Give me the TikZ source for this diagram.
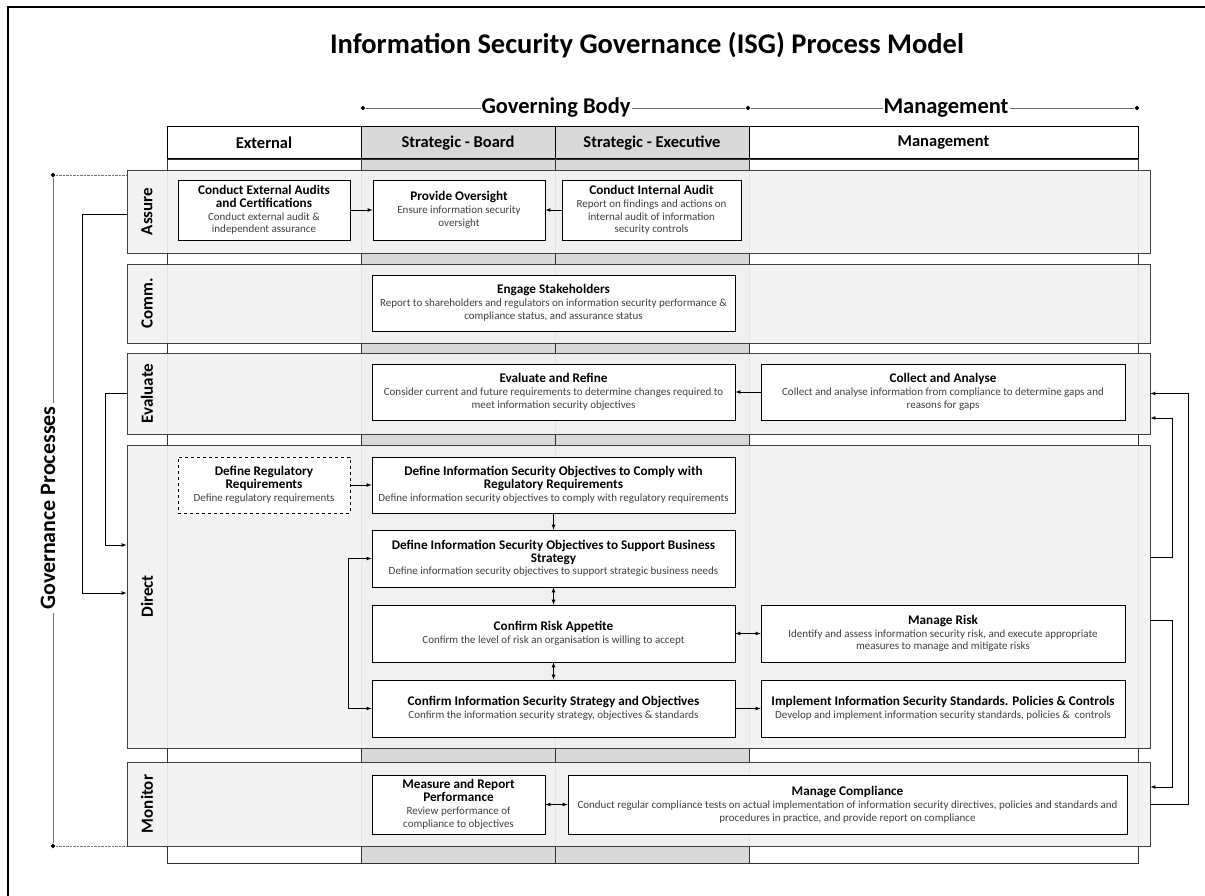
\documentclass[tikz,border=0pt]{standalone}
\usepackage{fontspec}
\setmainfont{Carlito}
\usetikzlibrary{shapes.geometric,arrows}
\definecolor{colgray}{HTML}{D9D9D9}
\definecolor{lanegray}{HTML}{F2F2F2}
\newcommand{\ptitle}[1]{{\fontsize{13.2}{14.5}\selectfont\bfseries #1}}
\newcommand{\pdesc}[1]{{\color{black!75}#1}}
\begin{document}
\begin{tikzpicture}
  [x=1pt,y=-1pt,>=latex,
   col/.style={rectangle,draw=black!80,line width=0.7pt,minimum height=704pt,anchor=north},
   colhead/.style={rectangle,draw,line width=1pt,minimum height=32pt,font=\fontsize{16.5}{18}\selectfont\bfseries},
   lane/.style={rectangle,draw=black!75,line width=0.9pt,fill=lanegray,fill opacity=0.92,minimum width=1023pt},
   lanename/.style={rotate=90,font=\fontsize{17}{19}\selectfont\bfseries},
   proc/.style={rectangle,draw,line width=0.8pt,fill=white,align=center,inner sep=2pt,font=\fontsize{11}{12.8}\selectfont},
   tip/.style={diamond,fill=black,inner sep=0pt,minimum size=5pt},
   link/.style={->,line width=0.7pt}]
  \useasboundingbox (0,0) rectangle (1205,896);
  \draw[line width=2.5pt] (8,896) -- (8,7) -- (1205,7);

  % title and top ruler
  \node (title) at (647,45) {\fontsize{28.5}{32}\selectfont\bfseries Information Security Governance (ISG) Process Model};
  \node[tip] (gbl) at (363,108) {};
  \node[tip] (gbm) at (748,108) {};
  \node[tip] (mgr) at (1137,108) {};
  \draw[black!60,line width=0.6pt] (gbl) -- (gbm);
  \draw[black!60,line width=0.6pt] (gbm) -- (mgr);
  \node[fill=white,inner xsep=1pt,font=\fontsize{22.5}{25}\selectfont\bfseries] (gb) at (556,108) {Governing Body};
  \node[fill=white,inner xsep=1pt,font=\fontsize{22.5}{25}\selectfont\bfseries] (mg) at (946,108) {Management};

  % columns
  \node[col,minimum width=194pt] (cext) at (264,159) {};
  \node[col,minimum width=194pt,fill=colgray] (cboard) at (458,159) {};
  \node[col,minimum width=194pt,fill=colgray] (cexec) at (652,159) {};
  \node[col,minimum width=389pt] (cmgmt) at (943.5,159) {};
  \node[colhead,minimum width=194pt] (hext) at (264,143) {External};
  \node[colhead,minimum width=194pt,fill=colgray] (hboard) at (458,143) {Strategic - Board};
  \node[colhead,minimum width=194pt,fill=colgray] (hexec) at (652,143) {Strategic - Executive};
  \node[colhead,minimum width=389pt] (hmgmt) at (943.5,143) {Management};

  % lanes
  \node[lane,minimum height=83pt] (assure) at (638.5,211.5) {};
  \node[lane,minimum height=79pt] (comm) at (638.5,303.5) {};
  \node[lane,minimum height=81pt] (evaluate) at (638.5,393.5) {};
  \node[lane,minimum height=303pt] (direct) at (638.5,596.5) {};
  \node[lane,minimum height=84pt] (monitor) at (638.5,804) {};
  \node[lanename] (lassure) at (147,211.5) {Assure};
  \node[lanename] (lcomm) at (147,303.5) {Comm.};
  \node[lanename] (levaluate) at (147,393.5) {Evaluate};
  \node[lanename] (ldirect) at (147,596.5) {Direct};
  \node[lanename] (lmonitor) at (147,804) {Monitor};

  % processes
  \node[proc,minimum width=172pt,minimum height=60pt] (extaudit) at (264,210)
    {\ptitle{Conduct External Audits}\\\ptitle{and Certifications}\\\pdesc{Conduct external audit \&}\\\pdesc{independent assurance}};
  \node[proc,minimum width=172pt,minimum height=60pt] (oversight) at (459,210)
    {\ptitle{Provide Oversight}\\\pdesc{Ensure information security}\\\pdesc{oversight}};
  \node[proc,minimum width=179pt,minimum height=60pt] (intaudit) at (651.5,210)
    {\ptitle{Conduct Internal Audit}\\\pdesc{Report on findings and actions on}\\\pdesc{internal audit of information}\\\pdesc{security controls}};
  \node[proc,minimum width=363pt,minimum height=56pt] (engage) at (553.5,303)
    {\ptitle{Engage Stakeholders}\\\pdesc{Report to shareholders and regulators on information security performance \&}\\\pdesc{compliance status, and assurance status}};
  \node[proc,minimum width=363pt,minimum height=56pt] (evalref) at (553.5,392)
    {\ptitle{Evaluate and Refine}\\\pdesc{Consider current and future requirements to determine changes required to}\\\pdesc{meet information security objectives}};
  \node[proc,minimum width=364pt,minimum height=56pt] (collect) at (943,392)
    {\ptitle{Collect and Analyse}\\\pdesc{Collect and analyse information from compliance to determine gaps and}\\\pdesc{reasons for gaps}};
  \node[proc,dashed,minimum width=172pt,minimum height=56pt] (defreg) at (264,485)
    {\ptitle{Define Regulatory}\\\ptitle{Requirements}\\\pdesc{Define regulatory requirements}};
  \node[proc,minimum width=363pt,minimum height=56pt] (comply) at (553.5,485)
    {\ptitle{Define Information Security Objectives to Comply with}\\\ptitle{Regulatory Requirements}\\\pdesc{Define information security objectives to comply with regulatory requirements}};
  \node[proc,minimum width=363pt,minimum height=57pt] (support) at (553.5,558.5)
    {\ptitle{Define Information Security Objectives to Support Business}\\\ptitle{Strategy}\\\pdesc{Define information security objectives to support strategic business needs}};
  \node[proc,minimum width=363pt,minimum height=57pt] (appetite) at (553.5,633.5)
    {\ptitle{Confirm Risk Appetite}\\\pdesc{Confirm the level of risk an organisation is willing to accept}};
  \node[proc,minimum width=363pt,minimum height=57pt] (strategy) at (553.5,708.5)
    {\ptitle{Confirm Information Security Strategy and Objectives}\\\pdesc{Confirm the information security strategy, objectives \& standards}};
  \node[proc,minimum width=364pt,minimum height=57pt] (mrisk) at (943,633.5)
    {\ptitle{Manage Risk}\\\pdesc{Identify and assess information security risk, and execute appropriate}\\\pdesc{measures to manage and mitigate risks}};
  \node[proc,minimum width=364pt,minimum height=57pt] (implement) at (943,708.5)
    {\ptitle{Implement Information Security Standards. Policies \& Controls}\\\pdesc{Develop and implement information security standards, policies \&~ controls}};
  \node[proc,minimum width=173pt,minimum height=59pt] (measure) at (458.5,804.5)
    {\ptitle{Measure and Report}\\\ptitle{Performance}\\\pdesc{Review performance of}\\\pdesc{compliance to objectives}};
  \node[proc,minimum width=559pt,minimum height=59pt] (compliance) at (847.5,804.5)
    {\ptitle{Manage Compliance}\\\pdesc{Conduct regular compliance tests on actual implementation of information security directives, policies and standards and}\\\pdesc{procedures in practice, and provide report on compliance}};

  % links between processes
  \draw[link] (extaudit) -- (oversight);
  \draw[link] (intaudit) -- (oversight);
  \draw[link] (collect) -- (evalref);
  \draw[link] (defreg) -- (comply);
  \draw[link] (comply) -- (support);
  \draw[link,<->] (support) -- (appetite);
  \draw[link,<->] (appetite) -- (strategy);
  \draw[link,<->] (appetite) -- (mrisk);
  \draw[link] (strategy) -- (implement);
  \draw[link,<->] (strategy.west) -- ++(-23,0) |- (support.west);
  \draw[link,<->] (measure) -- (compliance);

  % links between lanes
  \draw[link] ([yshift=-2.5pt]assure.west) -- ++(-44,0) |- ([yshift=3.5pt]direct.west);
  \draw[link] (evaluate.west) -- ++(-21,0) |- ([yshift=51.5pt]direct.west);
  \draw[link] (monitor.east) -- ++(38,0) |- (evaluate.east);
  \draw[link] ([yshift=39.5pt]direct.east) -- ++(22,0) |- ([yshift=-24.5pt]evaluate.east);
  \draw[link] ([yshift=-23.5pt]direct.east) -- ++(22,0) |- ([yshift=17pt]monitor.east);

  % governance processes
  \node[tip] (gptop) at (53,175) {};
  \node[tip] (gpbot) at (53,846) {};
  \draw[black!55,line width=0.6pt] (gptop) -- (gpbot);
  \draw[black!55,densely dotted] (gptop) -- (gptop -| assure.west);
  \draw[black!55,densely dotted] (gpbot) -- (gpbot -| monitor.west);
  \node[fill=white,rotate=90,font=\fontsize{22}{26}\selectfont\bfseries] (gp) at (48,508) {Governance Processes};
\end{tikzpicture}
\end{document}
